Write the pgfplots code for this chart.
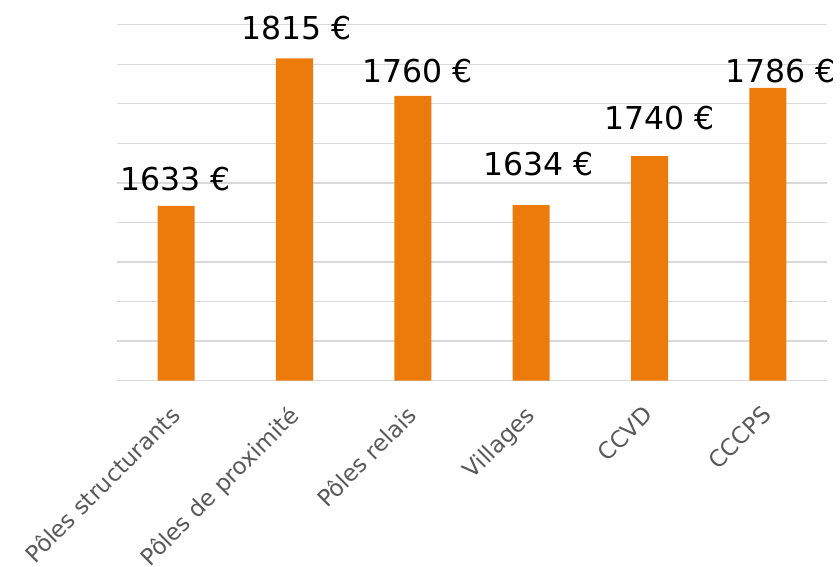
\documentclass[border=0pt]{standalone}
\usepackage{pgfplots}
\pgfplotsset{compat=1.18}
\usepackage{pgfplotstable}
\usepackage{fontspec}
\setmainfont{DejaVu Sans}
\definecolor{barorange}{HTML}{EC7B0C}
\definecolor{gridgray}{HTML}{D9D9D9}
\definecolor{ticktext}{HTML}{595959}
\pgfplotstableread{
x y label dx dy
0 4.42 1633 -1 15
1 8.15 1815 2 19
2 7.20 1760 5 13
3 4.44 1634 7.5 30
4 5.68 1740 10 27
5 7.40 1786 13 5
}\datatable
\begin{document}
\begin{tikzpicture}
\path[use as bounding box] (-117pt,-186.3pt) rectangle (723pt,380.7pt);
\begin{axis}[
  at={(0pt,0pt)}, anchor=south west,
  scale only axis,
  width=710pt, height=356pt,
  xmin=-0.5, xmax=5.5,
  ymin=0, ymax=9,
  ytick={0,1,...,9},
  yticklabels={},
  xtick={0,1,2,3,4,5},
  xticklabels={Pôles structurants,Pôles de proximité,Pôles relais,Villages,CCVD,CCCPS},
  xticklabel style={xshift=-7.5pt, yshift=-23.4pt, rotate=45, anchor=north east, inner sep=0pt,
    font=\fontsize{23}{27}\selectfont, text=ticktext},
  major tick length=0pt,
  axis line style={draw=none},
  ymajorgrids,
  grid style={gridgray, line width=1.3pt},
  clip=false,
]
\addplot[ybar, bar width=37pt, fill=barorange, draw=none,
  point meta=explicit symbolic,
  visualization depends on={\thisrow{dx} \as \dx},
  visualization depends on={\thisrow{dy} \as \dy},
  nodes near coords={\pgfplotspointmeta\ €},
  every node near coord/.append style={anchor=base, inner sep=0pt,
    xshift=\dx pt, yshift=\dy pt, font=\fontsize{31.5}{36}\selectfont, text=black},
] table[x=x, y=y, meta=label] {\datatable};
\end{axis}
\end{tikzpicture}
\end{document}
